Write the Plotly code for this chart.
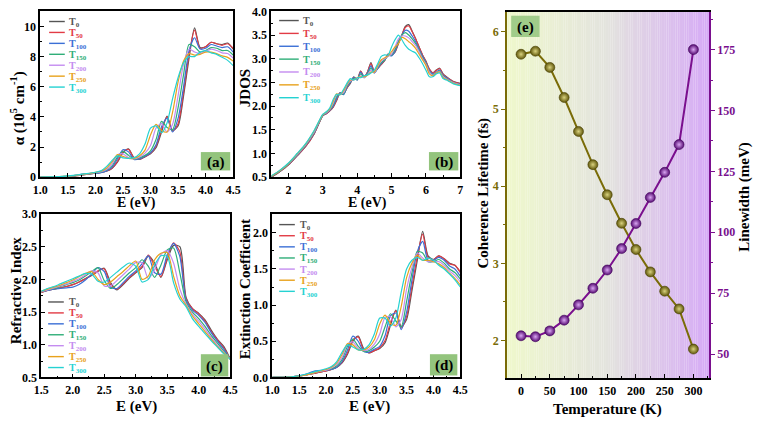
import plotly.graph_objects as go

W, H = 760, 426
FONT = "Liberation Serif, Times New Roman, serif"

# ---------------- data ----------------
SERIES_LABELS = ["T<sub>0</sub>", "T<sub>50</sub>", "T<sub>100</sub>", "T<sub>150</sub>",
                 "T<sub>200</sub>", "T<sub>250</sub>", "T<sub>300</sub>"]
SERIES_COLORS = ["#555555", "#e23b45", "#3b6fd6", "#2fae78", "#c48cf0", "#e8a21c", "#25d2d2"]

# (a) absorption coefficient alpha (10^5 cm^-1)
E_a = [1.0, 1.2, 1.4, 1.6, 1.8, 2.0, 2.1, 2.2, 2.3, 2.4, 2.5, 2.6, 2.7, 2.8, 2.9, 3.0,
       3.1, 3.2, 3.3, 3.4, 3.5, 3.6, 3.7, 3.8, 3.9, 4.0, 4.1, 4.2, 4.3, 4.4, 4.5]
alpha_T0 = [0.0, 0.01, 0.03, 0.08, 0.17, 0.27, 0.32, 0.40, 0.58, 1.00, 1.62, 1.88, 1.30, 1.18, 1.35, 1.55,
            1.95, 3.00, 4.05, 3.10, 3.40, 5.40, 7.90, 9.90, 8.60, 8.65, 8.95, 8.85, 8.80, 8.90, 8.50]
alpha_T50 = [0.0, 0.01, 0.03, 0.08, 0.17, 0.27, 0.32, 0.41, 0.60, 1.05, 1.68, 1.85, 1.27, 1.18, 1.37, 1.58,
             2.05, 3.15, 4.00, 3.05, 3.55, 5.65, 8.15, 9.75, 8.55, 8.65, 8.95, 8.85, 8.75, 8.85, 8.55]
alpha_T100 = [0.0, 0.01, 0.03, 0.09, 0.22, 0.25, 0.30, 0.42, 0.65, 1.22, 1.82, 1.68, 1.18, 1.22, 1.40, 1.62,
              2.15, 3.35, 3.90, 3.00, 3.90, 6.00, 8.40, 9.25, 8.50, 8.55, 8.80, 8.70, 8.60, 8.65, 8.30]
alpha_T150 = [0.0, 0.01, 0.04, 0.09, 0.18, 0.29, 0.35, 0.48, 0.75, 1.35, 1.72, 1.45, 1.20, 1.28, 1.45, 1.75,
              2.50, 3.70, 3.30, 3.15, 4.60, 6.80, 8.80, 8.65, 8.30, 8.40, 8.60, 8.55, 8.40, 8.40, 8.10]
alpha_T200 = [0.0, 0.01, 0.04, 0.10, 0.19, 0.30, 0.37, 0.52, 0.85, 1.47, 1.55, 1.30, 1.22, 1.35, 1.60, 2.10,
              3.25, 3.55, 3.00, 3.50, 5.40, 7.50, 8.50, 8.30, 8.20, 8.35, 8.50, 8.40, 8.25, 8.20, 7.90]
alpha_T250 = [0.0, 0.01, 0.05, 0.11, 0.20, 0.32, 0.40, 0.60, 1.00, 1.50, 1.38, 1.25, 1.25, 1.42, 1.80, 2.80,
              3.50, 3.10, 3.00, 4.30, 6.30, 7.70, 8.20, 8.10, 8.15, 8.30, 8.30, 8.20, 8.05, 7.95, 7.70]
alpha_T300 = [0.0, 0.02, 0.05, 0.12, 0.22, 0.33, 0.42, 0.70, 1.10, 1.42, 1.28, 1.25, 1.30, 1.55, 2.20, 3.25,
              3.40, 2.95, 3.60, 5.20, 6.60, 7.60, 8.00, 8.00, 8.30, 8.40, 8.25, 8.15, 7.95, 7.75, 7.40]

# (b) JDOS
E_b = [1.5, 1.75, 2.0, 2.25, 2.5, 2.75, 3.0,
       3.1, 3.2, 3.3, 3.4, 3.5, 3.6, 3.7, 3.8, 3.9, 4.0, 4.1, 4.2, 4.3, 4.4, 4.5, 4.6, 4.7, 4.8, 4.9, 5.0,
       5.1, 5.2, 5.3, 5.4, 5.5, 5.6, 5.7, 5.8, 5.9, 6.0, 6.1, 6.2, 6.3, 6.4, 6.5, 6.6, 6.8, 7.0]
jdos_T0 = [0.50, 0.62, 0.76, 0.95, 1.15, 1.42, 1.80,
           1.84, 1.90, 1.98, 2.12, 2.28, 2.25, 2.38, 2.48, 2.62, 2.56, 2.74, 2.60, 2.72, 2.92, 2.72, 2.80, 2.88, 2.96, 3.10, 3.08,
           3.14, 3.32, 3.50, 3.68, 3.72, 3.58, 3.42, 3.25, 3.08, 2.95, 2.78, 2.70, 2.76, 2.80, 2.68, 2.62, 2.52, 2.48]
jdos_T50 = [0.50, 0.62, 0.76, 0.95, 1.15, 1.42, 1.80,
            1.84, 1.90, 1.98, 2.13, 2.28, 2.26, 2.38, 2.50, 2.60, 2.57, 2.74, 2.62, 2.72, 2.90, 2.72, 2.80, 2.88, 2.97, 3.10, 3.08,
            3.15, 3.33, 3.50, 3.66, 3.69, 3.57, 3.42, 3.25, 3.08, 2.94, 2.78, 2.70, 2.75, 2.79, 2.67, 2.61, 2.52, 2.47]
jdos_T100 = [0.51, 0.63, 0.77, 0.96, 1.17, 1.44, 1.81,
             1.85, 1.91, 2.00, 2.16, 2.28, 2.24, 2.40, 2.50, 2.60, 2.55, 2.72, 2.62, 2.70, 2.85, 2.70, 2.80, 2.90, 2.98, 3.08, 3.06,
             3.16, 3.35, 3.50, 3.60, 3.58, 3.48, 3.36, 3.20, 3.05, 2.92, 2.75, 2.68, 2.72, 2.76, 2.65, 2.60, 2.50, 2.46]
jdos_T150 = [0.51, 0.63, 0.78, 0.97, 1.18, 1.45, 1.81,
             1.86, 1.92, 2.03, 2.20, 2.26, 2.26, 2.42, 2.52, 2.58, 2.56, 2.68, 2.60, 2.68, 2.80, 2.70, 2.82, 2.92, 2.98, 3.06, 3.08,
             3.20, 3.38, 3.50, 3.55, 3.50, 3.42, 3.32, 3.18, 3.02, 2.90, 2.73, 2.66, 2.70, 2.74, 2.63, 2.58, 2.50, 2.45]
jdos_T200 = [0.52, 0.64, 0.79, 0.98, 1.19, 1.46, 1.82,
             1.86, 1.93, 2.06, 2.24, 2.25, 2.28, 2.44, 2.53, 2.56, 2.58, 2.64, 2.60, 2.66, 2.76, 2.70, 2.84, 2.95, 3.00, 3.05, 3.10,
             3.25, 3.42, 3.48, 3.48, 3.44, 3.36, 3.28, 3.15, 3.00, 2.88, 2.72, 2.65, 2.70, 2.73, 2.62, 2.57, 2.49, 2.45]
jdos_T250 = [0.52, 0.64, 0.79, 0.99, 1.20, 1.48, 1.82,
             1.87, 1.94, 2.10, 2.26, 2.24, 2.32, 2.46, 2.55, 2.56, 2.60, 2.62, 2.62, 2.65, 2.72, 2.72, 2.86, 2.98, 3.02, 3.06, 3.15,
             3.25, 3.32, 3.45, 3.42, 3.36, 3.30, 3.22, 3.10, 2.98, 2.86, 2.68, 2.64, 2.70, 2.72, 2.60, 2.56, 2.48, 2.44]
jdos_T300 = [0.53, 0.65, 0.80, 1.00, 1.21, 1.49, 1.83,
             1.88, 1.96, 2.14, 2.25, 2.24, 2.35, 2.48, 2.58, 2.55, 2.60, 2.60, 2.64, 2.66, 2.70, 2.76, 2.90, 3.05, 3.08, 3.08, 3.25,
             3.40, 3.50, 3.40, 3.28, 3.20, 3.16, 3.12, 3.02, 2.90, 2.76, 2.62, 2.62, 2.68, 2.70, 2.58, 2.55, 2.47, 2.43]

# (c) refractive index
E_c = [1.5, 1.6, 1.7, 1.8, 1.9, 2.0, 2.1, 2.2, 2.3, 2.4, 2.5, 2.6, 2.7, 2.8, 2.9, 3.0,
       3.1, 3.2, 3.3, 3.4, 3.5, 3.6, 3.7, 3.8, 3.9, 4.0, 4.1, 4.2, 4.3, 4.4, 4.5]
n_T0 = [1.80, 1.83, 1.85, 1.87, 1.89, 1.92, 1.96, 2.01, 2.06, 2.12, 2.17, 1.95, 1.84, 1.92, 2.02, 2.10,
        2.18, 2.36, 2.25, 2.03, 2.30, 2.52, 2.50, 1.72, 1.55, 1.48, 1.38, 1.22, 1.08, 0.97, 0.78]
n_T50 = [1.80, 1.83, 1.85, 1.87, 1.89, 1.92, 1.96, 2.01, 2.07, 2.13, 2.16, 1.92, 1.85, 1.93, 2.03, 2.11,
         2.20, 2.37, 2.20, 2.04, 2.33, 2.56, 2.42, 1.70, 1.55, 1.47, 1.36, 1.20, 1.07, 0.95, 0.78]
n_T100 = [1.81, 1.83, 1.85, 1.86, 1.87, 1.88, 1.92, 1.99, 2.08, 2.18, 2.12, 1.88, 1.86, 1.95, 2.05, 2.13,
          2.24, 2.36, 2.10, 2.08, 2.38, 2.55, 2.35, 1.68, 1.53, 1.45, 1.34, 1.18, 1.05, 0.93, 0.78]
n_T150 = [1.81, 1.84, 1.86, 1.89, 1.92, 1.95, 1.99, 2.05, 2.12, 2.18, 1.98, 1.86, 1.92, 2.01, 2.10, 2.18,
          2.30, 2.20, 2.03, 2.22, 2.45, 2.48, 2.10, 1.65, 1.50, 1.40, 1.28, 1.14, 1.02, 0.90, 0.78]
n_T200 = [1.81, 1.84, 1.87, 1.90, 1.93, 1.97, 2.01, 2.07, 2.13, 2.10, 1.90, 1.90, 1.98, 2.07, 2.16, 2.26,
          2.25, 2.01, 2.15, 2.38, 2.44, 2.25, 1.85, 1.62, 1.47, 1.36, 1.24, 1.11, 0.99, 0.88, 0.78]
n_T250 = [1.82, 1.85, 1.88, 1.91, 1.95, 1.99, 2.04, 2.09, 2.12, 2.00, 1.92, 1.96, 2.04, 2.12, 2.21, 2.28,
          2.00, 2.05, 2.30, 2.40, 2.41, 2.05, 1.75, 1.60, 1.44, 1.32, 1.20, 1.08, 0.97, 0.87, 0.78]
n_T300 = [1.82, 1.86, 1.89, 1.93, 1.97, 2.01, 2.05, 2.09, 2.08, 1.97, 1.96, 2.03, 2.11, 2.19, 2.25, 2.20,
          1.96, 2.00, 2.22, 2.36, 2.35, 1.95, 1.70, 1.58, 1.40, 1.28, 1.17, 1.06, 0.96, 0.86, 0.78]

# (d) extinction coefficient
E_d = [1.0, 1.2, 1.4, 1.6, 1.8, 2.0, 2.1, 2.2, 2.3, 2.4, 2.5, 2.6, 2.7, 2.8, 2.9, 3.0,
       3.1, 3.2, 3.3, 3.4, 3.5, 3.6, 3.7, 3.8, 3.9, 4.0, 4.1, 4.2, 4.3, 4.4, 4.5]
k_T0 = [0.0, 0.0, 0.01, 0.03, 0.06, 0.09, 0.11, 0.14, 0.20, 0.32, 0.50, 0.57, 0.40, 0.34, 0.37, 0.40,
        0.48, 0.72, 0.93, 0.70, 0.80, 1.20, 1.62, 2.02, 1.68, 1.63, 1.68, 1.64, 1.58, 1.55, 1.45]
k_T50 = [0.0, 0.0, 0.01, 0.03, 0.06, 0.09, 0.11, 0.14, 0.21, 0.34, 0.52, 0.56, 0.38, 0.34, 0.37, 0.41,
         0.51, 0.76, 0.92, 0.68, 0.84, 1.26, 1.67, 1.98, 1.66, 1.63, 1.68, 1.64, 1.57, 1.55, 1.46]
k_T100 = [0.0, 0.0, 0.01, 0.04, 0.09, 0.10, 0.11, 0.14, 0.22, 0.38, 0.57, 0.50, 0.36, 0.35, 0.39, 0.43,
          0.58, 0.85, 0.89, 0.66, 0.90, 1.35, 1.74, 1.88, 1.62, 1.62, 1.66, 1.62, 1.54, 1.50, 1.40]
k_T150 = [0.0, 0.0, 0.01, 0.03, 0.07, 0.10, 0.12, 0.16, 0.25, 0.43, 0.53, 0.43, 0.36, 0.37, 0.42, 0.50,
          0.70, 0.88, 0.78, 0.70, 1.05, 1.45, 1.74, 1.72, 1.60, 1.60, 1.63, 1.58, 1.50, 1.45, 1.36]
k_T200 = [0.0, 0.0, 0.01, 0.03, 0.07, 0.10, 0.13, 0.18, 0.28, 0.46, 0.49, 0.40, 0.37, 0.39, 0.46, 0.60,
          0.83, 0.84, 0.70, 0.80, 1.22, 1.52, 1.72, 1.65, 1.60, 1.60, 1.60, 1.55, 1.47, 1.41, 1.32]
k_T250 = [0.0, 0.0, 0.01, 0.03, 0.07, 0.11, 0.14, 0.20, 0.32, 0.47, 0.45, 0.38, 0.38, 0.42, 0.52, 0.74,
          0.86, 0.75, 0.72, 0.98, 1.38, 1.58, 1.69, 1.62, 1.62, 1.60, 1.57, 1.52, 1.44, 1.37, 1.28]
k_T300 = [0.0, 0.0, 0.01, 0.04, 0.08, 0.12, 0.15, 0.22, 0.35, 0.45, 0.42, 0.38, 0.39, 0.45, 0.60, 0.82,
          0.82, 0.71, 0.82, 1.18, 1.50, 1.62, 1.66, 1.62, 1.65, 1.62, 1.55, 1.50, 1.43, 1.35, 1.25]

# (e) temperature dependence
temperature = [0, 25, 50, 75, 100, 125, 150, 175, 200, 225, 250, 275, 300]
lifetime = [5.71, 5.75, 5.54, 5.15, 4.71, 4.28, 3.89, 3.52, 3.18, 2.89, 2.64, 2.41, 1.89]
linewidth = [57.5, 57.1, 59.5, 63.9, 70.2, 77.0, 84.5, 93.3, 103.6, 114.3, 124.6, 136.0, 175.0]

alpha_all = [alpha_T0, alpha_T50, alpha_T100, alpha_T150, alpha_T200, alpha_T250, alpha_T300]
jdos_all = [jdos_T0, jdos_T50, jdos_T100, jdos_T150, jdos_T200, jdos_T250, jdos_T300]
n_all = [n_T0, n_T50, n_T100, n_T150, n_T200, n_T250, n_T300]
k_all = [k_T0, k_T50, k_T100, k_T150, k_T200, k_T250, k_T300]

# ---------------- helpers ----------------
def fx(p):
    return p / W

def fy(p):
    return 1 - p / H

OLIVE = "#7a6c08"
PURPLE = "#7a0f8e"

fig = go.Figure()

panels = [
    ("x", "y", E_a, alpha_all),
    ("x2", "y2", E_b, jdos_all),
    ("x3", "y3", E_c, n_all),
    ("x4", "y4", E_d, k_all),
]
for xa, ya, E, data in panels:
    for i, vals in enumerate(data):
        fig.add_trace(go.Scatter(
            x=E, y=vals, mode="lines", xaxis=xa, yaxis=ya, showlegend=False,
            line=dict(color=SERIES_COLORS[i], width=1.2, shape="spline", smoothing=0.7),
            hoverinfo="skip"))

fig.add_trace(go.Scatter(
    x=temperature, y=lifetime, mode="lines+markers", xaxis="x5", yaxis="y5", showlegend=False,
    line=dict(color=OLIVE, width=2),
    marker=dict(size=10, color="#5f560a", gradient=dict(type="radial", color="#d9d27e"),
                line=dict(width=0.6, color="#4a4205"))))
fig.add_trace(go.Scatter(
    x=temperature, y=linewidth, mode="lines+markers", xaxis="x5", yaxis="y6", showlegend=False,
    line=dict(color=PURPLE, width=2),
    marker=dict(size=10, color="#560a72", gradient=dict(type="radial", color="#d9a6f2"),
                line=dict(width=0.6, color="#40055a"))))

tickfont = dict(family=FONT, size=12, color="black", weight="bold")

def axis(domain, rng, dtick, minor, fmt=None, anchor=None, ticks="inside", **kw):
    d = dict(domain=domain, range=rng, dtick=dtick, tick0=0, showline=True, linecolor="black",
             linewidth=1.8, mirror=True, ticks=ticks, ticklen=4, tickwidth=1.2, tickcolor="black",
             showgrid=False, zeroline=False, tickfont=tickfont, anchor=anchor,
             minor=dict(ticks=ticks, ticklen=2, tickwidth=1, tickcolor="black", dtick=minor, showgrid=False))
    if fmt:
        d["tickformat"] = fmt
    d.update(kw)
    return d

# domains from pixel boxes
dxa = [fx(33), fx(230)]
dxb = [fx(269), fx(462)]
dxc = [fx(34), fx(227)]
dxd = [fx(270), fx(462)]
dxe = [fx(510), fx(716)]
dy_top = [fy(176), fy(4.5)]
dy_bot = [fy(383), fy(214)]
dye = [fy(384), fy(5)]

fig.update_layout(
    xaxis=axis(dxa, [1.0, 4.5], 0.5, 0.25, ".1f", "y"),
    yaxis=axis(dy_top, [0, 11], 2, 1, None, "x"),
    xaxis2=axis(dxb, [1.5, 7.0], 1, 0.5, None, "y2"),
    yaxis2=axis(dy_top, [0.5, 4.0], 0.5, 0.25, ".1f", "x2"),
    xaxis3=axis(dxc, [1.5, 4.5], 0.5, 0.25, ".1f", "y3"),
    yaxis3=axis(dy_bot, [0.5, 3.0], 0.5, 0.25, ".1f", "x3"),
    xaxis4=axis(dxd, [1.0, 4.5], 0.5, 0.25, ".1f", "y4"),
    yaxis4=axis(dy_bot, [0, 2.26], 0.5, 0.25, ".1f", "x4"),
    xaxis5=axis(dxe, [-24, 327], 50, 25, None, "y5", linewidth=2),
    yaxis5=dict(domain=dye, range=[1.51, 6.26], dtick=1, tick0=0, anchor="x5", showline=True,
                linecolor=OLIVE, linewidth=2, mirror=False, ticks="outside", ticklen=4, tickwidth=1.2,
                tickcolor=OLIVE, showgrid=False, zeroline=False,
                tickfont=dict(family=FONT, size=12, color=OLIVE, weight="bold"),
                minor=dict(ticks="outside", ticklen=2, tickcolor=OLIVE, dtick=0.5, showgrid=False)),
    yaxis6=dict(domain=dye, range=[40, 190.5], dtick=25, tick0=0, anchor="x5", overlaying="y5",
                side="right", showline=True, linecolor=PURPLE, linewidth=2, ticks="outside",
                ticklen=4, tickwidth=1.2, tickcolor=PURPLE, showgrid=False, zeroline=False,
                tickfont=dict(family=FONT, size=12, color=PURPLE, weight="bold"),
                minor=dict(ticks="outside", ticklen=2, tickcolor=PURPLE, dtick=12.5, showgrid=False)),
    width=W, height=H, margin=dict(l=0, r=0, t=0, b=0),
    paper_bgcolor="white", plot_bgcolor="white", showlegend=False,
    font=dict(family=FONT, color="black"),
)

shapes = []
annotations = []

# gradient background for panel (e)
stops = [(0.0, (239, 248, 204)), (0.5, (227, 227, 222)), (1.0, (214, 170, 246))]
N = 90
for i in range(N):
    t = (i + 0.5) / N
    if t <= 0.5:
        a, b, u = stops[0][1], stops[1][1], t / 0.5
    else:
        a, b, u = stops[1][1], stops[2][1], (t - 0.5) / 0.5
    col = tuple(int(round(a[j] + (b[j] - a[j]) * u)) for j in range(3))
    shapes.append(dict(type="rect", xref="x5 domain", yref="y5 domain", x0=i / N, x1=(i + 1.02) / N,
                       y0=0, y1=1, fillcolor="rgb(%d,%d,%d)" % col, line=dict(width=0), layer="below"))

# legends drawn as line samples + coloured labels
legends = [
    (42, 58, 60, 15, 11.3),
    (277, 297, 299, 14, 13.3),
    (41, 57, 60, 305, 11.3),
    (277, 293, 296, 225, 11.5),
]
for x0, x1, xt, ystart, step in legends:
    for i in range(7):
        yy = ystart + step * i
        shapes.append(dict(type="line", xref="paper", yref="paper", x0=fx(x0), x1=fx(x1),
                           y0=fy(yy), y1=fy(yy), line=dict(color=SERIES_COLORS[i], width=1.4)))
        annotations.append(dict(xref="paper", yref="paper", x=fx(xt), y=fy(yy + 1), xanchor="left",
                                yanchor="middle", showarrow=False,
                                text="<b>%s</b>" % SERIES_LABELS[i],
                                font=dict(family=FONT, size=10, color=SERIES_COLORS[i])))

# panel labels
labels = [("(a)", 197, 227, 150, 169), ("(b)", 430, 460, 150, 169), ("(c)", 197, 225, 359, 382),
          ("(d)", 431, 459, 359, 381), ("(e)", 514, 543, 9, 31)]
for txt, x0, x1, y0, y1 in labels:
    shapes.append(dict(type="rect", xref="paper", yref="paper", x0=fx(x0), x1=fx(x1), y0=fy(y1), y1=fy(y0),
                       fillcolor="#93c47d", opacity=0.85 if txt == "(e)" else 1.0, line=dict(width=0), layer="above"))
    annotations.append(dict(xref="paper", yref="paper", x=fx((x0 + x1) / 2), y=fy((y0 + y1) / 2 + 1),
                            xanchor="center", yanchor="middle", showarrow=False, text="<b>%s</b>" % txt,
                            font=dict(family=FONT, size=15, color="black")))

# axis titles
titles = [
    ("α (10<sup>5</sup> cm<sup>-1</sup>)", 10, 105, -90, 15),
    ("E (eV)", 131, 203, 0, 14),
    ("JDOS", 242, 84, -90, 15),
    ("E (eV)", 367, 203, 0, 14),
    ("Refractive Index", 9, 293, -90, 15),
    ("E (eV)", 131, 413, 0, 15),
    ("Extinction Coefficient", 242, 292, -90, 15),
    ("E (eV)", 369, 413, 0, 15),
    ("Coherence Lifetime (fs)", 486, 192, -90, 15),
    ("Linewidth (meV)", 752, 196, -90, 15),
    ("Temperature (K)", 612, 416, 0, 15),
]
for txt, x, y, ang, sz in titles:
    annotations.append(dict(xref="paper", yref="paper", x=fx(x), y=fy(y), xanchor="center", yanchor="middle",
                            showarrow=False, textangle=ang, text="<b>%s</b>" % txt,
                            font=dict(family=FONT, size=sz, color="black")))

fig.update_layout(shapes=shapes, annotations=annotations)
fig.write_html("out.html", config={"displayModeBar": False},
               post_script="document.body.style.margin='0px';document.body.style.padding='0px';"
                           "document.body.style.overflow='hidden';")
